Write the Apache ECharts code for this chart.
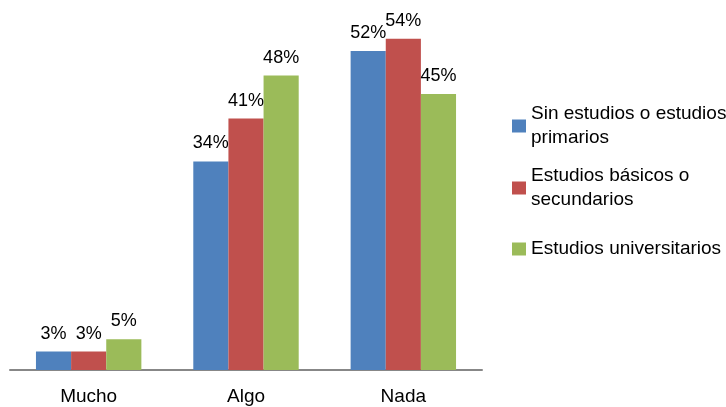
<!DOCTYPE html>
<html>
<head>
<meta charset="utf-8">
<script src="https://cdn.jsdelivr.net/npm/echarts@6/dist/echarts.min.js"></script>
<style>
  html, body { margin: 0; padding: 0; background: #ffffff; }
  #chart { width: 726px; height: 407px; }
</style>
</head>
<body>
<div id="chart"></div>
<script>
// Grado de interés según nivel de estudios (%)
var categories = ['Mucho', 'Algo', 'Nada'];
var seriesNames = [
  'Sin estudios o estudios primarios',
  'Estudios básicos o secundarios',
  'Estudios universitarios'
];
// Legend text split over lines
var legendLabels = [
  'Sin estudios o estudios\nprimarios',
  'Estudios básicos o\nsecundarios',
  'Estudios universitarios'
];
var sinEstudios = [3, 34, 52];
var basicos = [3, 41, 54];
var universitarios = [5, 48, 45];
var colors = ['#4F81BD', '#C0504D', '#9BBB59'];

var FONT = 'Liberation Sans';
var values = [sinEstudios, basicos, universitarios];

function makeSeries(i) {
  return {
    name: seriesNames[i],
    type: 'bar',
    data: values[i],
    barGap: '0%',
    barCategoryGap: '33%',
    itemStyle: { color: colors[i] },
    label: {
      show: true,
      position: 'top',
      distance: 9,
      formatter: '{c}%',
      color: '#000000',
      fontFamily: FONT,
      fontSize: 18
    }
  };
}

// One legend block per series so two-line entries keep the swatch beside the first line
function makeLegend(i, top, twoLines) {
  return {
    orient: 'vertical',
    left: 512,
    top: top,
    padding: 0,
    itemWidth: 14,
    itemHeight: 13,
    icon: 'rect',
    data: [seriesNames[i]],
    formatter: function () { return legendLabels[i]; },
    textStyle: {
      fontFamily: FONT,
      fontSize: 19,
      color: '#000000',
      lineHeight: 24,
      padding: twoLines ? [24, 0, 0, 0] : 0
    }
  };
}

var chart = echarts.init(document.getElementById('chart'), null, { renderer: 'canvas' });
chart.setOption({
  animation: false,
  backgroundColor: '#ffffff',
  grid: { left: 10, right: 244, top: 2, bottom: 37, containLabel: false },
  legend: [
    makeLegend(0, 90, true),
    makeLegend(1, 152, true),
    makeLegend(2, 237, false)
  ],
  xAxis: {
    type: 'category',
    data: categories,
    axisLine: { show: true, lineStyle: { color: '#878787', width: 2 } },
    axisTick: { show: false },
    axisLabel: { color: '#000000', fontFamily: FONT, fontSize: 19, margin: 17 }
  },
  yAxis: {
    type: 'value',
    min: 0,
    max: 60,
    show: false,
    splitLine: { show: false }
  },
  series: [makeSeries(0), makeSeries(1), makeSeries(2)]
});
</script>
</body>
</html>
